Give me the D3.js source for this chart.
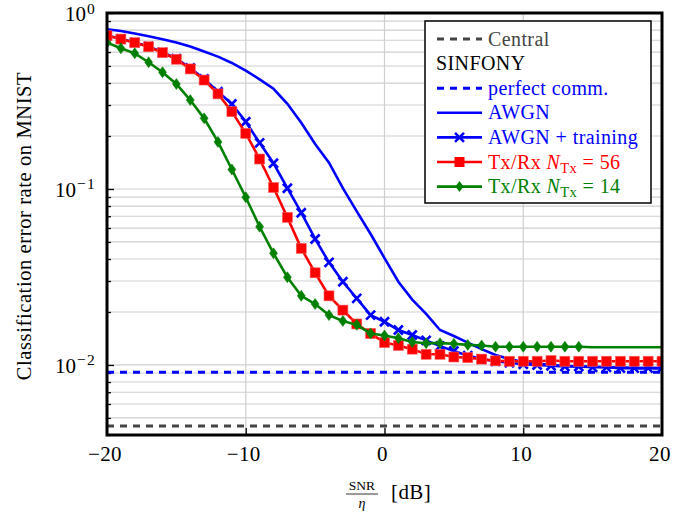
<!DOCTYPE html>
<html><head><meta charset="utf-8">
<script src="https://cdn.jsdelivr.net/npm/d3@7"></script>
<style>body{margin:0;background:#fff}svg{display:block}</style>
</head><body><svg id="c" width="696" height="512" font-family="'Liberation Serif', 'DejaVu Serif', serif"></svg>
<script>
const snr = d3.range(-20, 21);
const centralLevel = 0.0045;
const perfectLevel = 0.0091;
const awgn = [0.808,0.79,0.765,0.737,0.71,0.68,0.645,0.605,0.565,0.52,0.47,0.42,0.371,0.305,0.238,0.18,0.141,0.101,0.0746,0.0555,0.0405,0.0297,0.0235,0.0195,0.0158,0.0146,0.0134,0.0123,0.0114,0.0108,0.0104,0.0102,0.0100,0.0099,0.0098,0.0098,0.0097,0.0097,0.0096,0.0096,0.0096];
const awgnTrain = [0.745,0.713,0.68,0.646,0.598,0.55,0.487,0.422,0.357,0.304,0.241,0.183,0.140,0.101,0.0733,0.052,0.0383,0.0297,0.0239,0.0192,0.0176,0.0158,0.0148,0.0138,0.0128,0.0120,0.0113,0.0108,0.0105,0.0103,0.0101,0.0100,0.0099,0.0098,0.0098,0.0097,0.0097,0.0096,0.0096,0.0096,0.0096];
const txrx56 = [0.743,0.711,0.678,0.643,0.595,0.546,0.481,0.416,0.347,0.275,0.207,0.148,0.102,0.069,0.046,0.0334,0.0247,0.0205,0.0171,0.0151,0.0134,0.0129,0.0123,0.0115,0.0115,0.0111,0.0110,0.0108,0.01055,0.0105,0.0105,0.0105,0.0106,0.0105,0.0105,0.0105,0.0105,0.0105,0.0105,0.0105,0.0105];
const txrx14 = [0.678,0.630,0.590,0.525,0.461,0.395,0.320,0.252,0.185,0.129,0.0897,0.061,0.0431,0.0315,0.0247,0.0222,0.0192,0.0178,0.0169,0.0151,0.0147,0.0142,0.0135,0.0133,0.0133,0.0132,0.0130,0.0129,0.0127,0.0127,0.0127,0.0127,0.0127,0.0127,0.0127,0.0126,0.0126,0.0126,0.0126,0.0126,0.0126];
const xTicks = [-20,-10,0,10,20];
const yTickExps = [0,-1,-2];

const svg = d3.select("#c");
const L=107,R=662,T=13,B=435;
const x = d3.scaleLinear().domain([-20,20]).range([L,R]);
const y = d3.scaleLog().domain([0.004,1]).range([B,T]);

// grid
const minor = [];
for (let e=-3;e<0;e++) for (let m=1;m<10;m++){const v=m*Math.pow(10,e); if(v>=0.004&&v<=1) minor.push(v);}
minor.push(1);
svg.append("g").selectAll("line").data(minor).join("line")
 .attr("x1",L).attr("x2",R).attr("y1",d=>y(d)).attr("y2",d=>y(d))
 .attr("stroke","#cfcfcf").attr("stroke-width",1.2);
svg.append("g").selectAll("line").data(xTicks.slice(1,-1)).join("line")
 .attr("x1",d=>x(d)).attr("x2",d=>x(d)).attr("y1",T).attr("y2",B)
 .attr("stroke","#cfcfcf").attr("stroke-width",1.2);

// ticks
const yAxis = d3.axisRight(y).tickValues(minor).tickSize(4).tickFormat("");
const ga = svg.append("g").attr("transform",`translate(${L},0)`).call(yAxis);
ga.select(".domain").remove();
ga.selectAll(".tick line").attr("stroke","#000").attr("stroke-width",1.3)
 .attr("x2",d=>Number.isInteger(Math.log10(d))?7:4);
const xAxis = d3.axisTop(x).tickValues(xTicks.slice(1,-1)).tickSize(7).tickFormat("");
const gx = svg.append("g").attr("transform",`translate(0,${B})`).call(xAxis);
gx.select(".domain").remove();
gx.selectAll(".tick line").attr("stroke","#000").attr("stroke-width",1.3);

// tick labels
svg.append("g").selectAll("text").data(xTicks).join("text")
 .attr("x",d=>x(d)-2).attr("y",461).attr("text-anchor","middle").attr("font-size",21).attr("letter-spacing",0.4)
 .text(d=>d<0?"\u2212"+Math.abs(d):d);
const yl = svg.append("g").selectAll("text").data(yTickExps).join("text")
 .attr("x",96).attr("y",d=>y(Math.pow(10,d))+8).attr("text-anchor","end").attr("font-size",21);
yl.append("tspan").text("10");
yl.append("tspan").attr("dy",-7.5).attr("dx",1).attr("font-size",15.5).attr("letter-spacing",1.2).text(d=>d===0?"0":"\u2212"+Math.abs(d));

// axis labels
svg.append("text").attr("transform","translate(31,226) rotate(-90)").attr("text-anchor","middle")
 .attr("font-size",20.5).attr("letter-spacing",0.6).text("Classification error rate on MNIST");
svg.append("text").attr("x",362).attr("y",490).attr("text-anchor","middle").attr("font-size",13.5).text("SNR");
svg.append("line").attr("x1",346).attr("x2",378).attr("y1",494).attr("y2",494).attr("stroke","#000").attr("stroke-width",0.8);
svg.append("text").attr("x",362).attr("y",508).attr("text-anchor","middle").attr("font-size",14).attr("font-style","italic").text("\u03b7");
svg.append("text").attr("x",391).attr("y",499).attr("font-size",21).attr("letter-spacing",0.4).text("[dB]");

// clip
svg.append("clipPath").attr("id","clip").append("rect").attr("x",L).attr("y",T).attr("width",R-L).attr("height",B-T);
const plot = svg.append("g").attr("clip-path","url(#clip)");
const line = d3.line().x((d,i)=>x(snr[i])).y(d=>y(d));

// horizontal refs
plot.append("line").attr("x1",L).attr("x2",R).attr("y1",y(centralLevel)).attr("y2",y(centralLevel))
 .attr("stroke","#444").attr("stroke-width",3).attr("stroke-dasharray","7,6");
plot.append("line").attr("x1",L).attr("x2",R).attr("y1",y(perfectLevel)).attr("y2",y(perfectLevel))
 .attr("stroke","#0000ff").attr("stroke-width",3).attr("stroke-dasharray","7,6");

plot.append("path").datum(awgn).attr("d",line).attr("fill","none").attr("stroke","#0000ff").attr("stroke-width",2.6);
plot.append("path").datum(awgnTrain).attr("d",line).attr("fill","none").attr("stroke","#0000ff").attr("stroke-width",2.6);
const cross = (g,cx,cy,s,col)=>{g.append("path").attr("d",`M${cx-s},${cy-s}L${cx+s},${cy+s}M${cx-s},${cy+s}L${cx+s},${cy-s}`).attr("stroke",col).attr("stroke-width",2.6).attr("fill","none");};
const gc = plot.append("g");
awgnTrain.forEach((v,i)=>cross(gc,x(snr[i]),y(v),4.5,"#0000ff"));

plot.append("path").datum(txrx56).attr("d",line).attr("fill","none").attr("stroke","#ff0000").attr("stroke-width",2.6);
plot.append("g").selectAll("rect").data(txrx56).join("rect")
 .attr("x",(d,i)=>x(snr[i])-5).attr("y",d=>y(d)-5).attr("width",10).attr("height",10)
 .attr("fill","#ff0000").attr("stroke","#ff6060").attr("stroke-width",0.6);

plot.append("path").datum(txrx14).attr("d",line).attr("fill","none").attr("stroke","#008000").attr("stroke-width",2.6);
plot.append("g").selectAll("path").data(txrx14.map((v,i)=>[snr[i],v]).filter(d=>d[0]<=14)).join("path")
 .attr("d",d=>{const cx=x(d[0]),cy=y(d[1]);return `M${cx},${cy-5.5}L${cx+4},${cy}L${cx},${cy+5.5}L${cx-4},${cy}Z`;})
 .attr("fill","#008000").attr("stroke","#008000").attr("stroke-width",0.5);

// frame
svg.append("rect").attr("x",L).attr("y",T).attr("width",R-L).attr("height",B-T)
 .attr("fill","none").attr("stroke","#000").attr("stroke-width",3);

// legend
const lg = svg.append("g");
lg.append("rect").attr("x",425).attr("y",21).attr("width",226).attr("height",182)
 .attr("fill","#fff").attr("stroke","#000").attr("stroke-width",1.5);
const items = [
 {label:"Central",col:"#444",dash:"7,6",mark:null},
 {label:"SINFONY",col:"#000",header:true},
 {label:"perfect comm.",col:"#0000ff",dash:"7,6",mark:null},
 {label:"AWGN",col:"#0000ff",mark:null},
 {label:"AWGN + training",col:"#0000ff",mark:"x"},
 {label:"Tx/Rx",col:"#ff0000",mark:"s",n:"56"},
 {label:"Tx/Rx",col:"#008000",mark:"d",n:"14"}
];
items.forEach((it,k)=>{
 const cy = 39+k*24.6;
 if(it.header){
  lg.append("text").attr("x",436).attr("y",cy+6.5).attr("font-size",20).attr("letter-spacing",0.4).attr("fill",it.col).text(it.label);
  return;
 }
 lg.append("line").attr("x1",437).attr("x2",482).attr("y1",cy).attr("y2",cy)
  .attr("stroke",it.col).attr("stroke-width",it.dash?3:2.6).attr("stroke-dasharray",it.dash||null);
 if(it.mark==="x") cross(lg,459.5,cy,4.5,it.col);
 if(it.mark==="s") lg.append("rect").attr("x",454.5).attr("y",cy-5).attr("width",10).attr("height",10).attr("fill",it.col);
 if(it.mark==="d") lg.append("path").attr("d",`M459.5,${cy-5.5}L463.5,${cy}L459.5,${cy+5.5}L455.5,${cy}Z`).attr("fill",it.col);
 const t = lg.append("text").attr("x",488).attr("y",cy+6.5).attr("font-size",20).attr("letter-spacing",0.4).attr("fill",it.col);
 t.append("tspan").text(it.label);
 if(it.n){
  t.append("tspan").attr("font-style","italic").text(" N");
  t.append("tspan").attr("font-size",14.5).attr("dy",4).text("Tx");
  t.append("tspan").attr("dy",-4).text(" = "+it.n);
 }
});
</script></body></html>
